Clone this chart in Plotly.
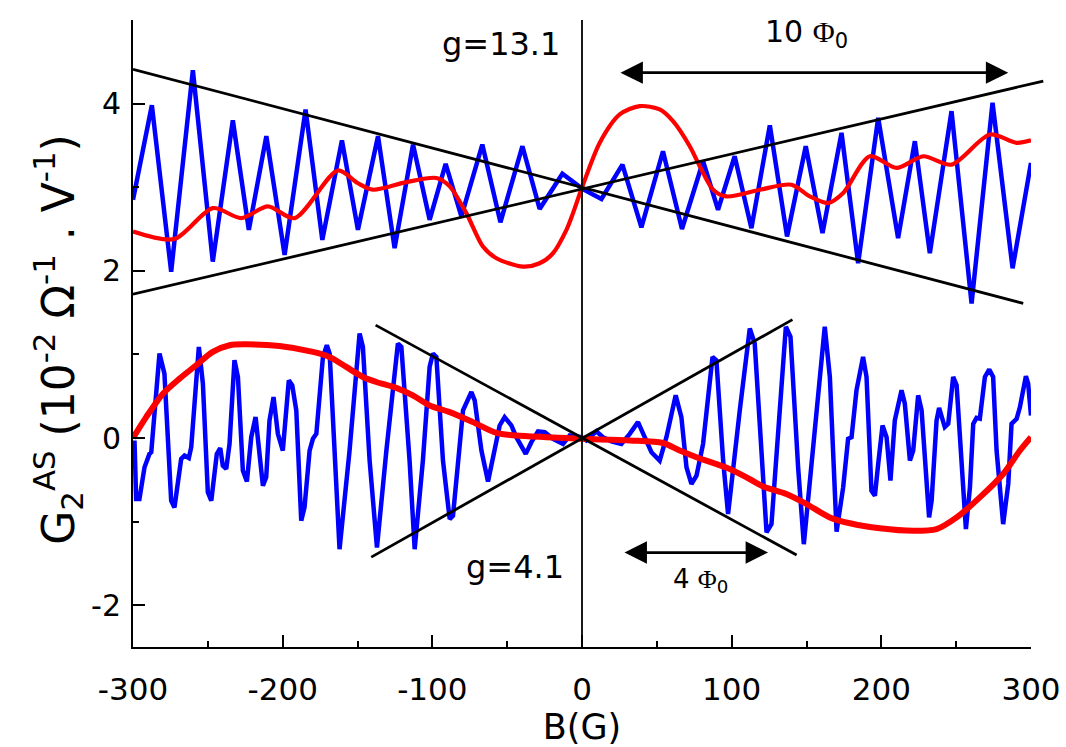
import plotly.graph_objects as go

# ---------------- data ----------------
# upper blue trace (g=13.1 sample), field B in G, signal in 1e-2 Ohm^-1 V^-1
b_up_blue = [-300, -287.4, -274.5, -260.0, -246.7, -233.3, -222.6, -210.9, -198.7, -184.7,
             -173.5, -160.4, -149.7, -136.3, -125.2, -112.9, -101.8, -91.1, -80.6, -66.6,
             -54.5, -39.8, -28.3, -13.1, 0.3, 13.0, 27.0, 39.7, 54.1, 66.8,
             80.9, 90.9, 102.0, 113.2, 125.5, 137.0, 149.5, 160.7, 173.4, 184.5,
             197.9, 211.2, 222.4, 232.4, 246.9, 260.3, 274.3, 287.7, 300.0]
g_up_blue = [2.85, 3.98, 1.99, 4.40, 2.11, 3.80, 2.49, 3.61, 2.19, 3.93,
             2.37, 3.56, 2.49, 3.61, 2.27, 3.51, 2.61, 3.28, 2.65, 3.51,
             2.58, 3.49, 2.74, 3.16, 2.98, 2.86, 3.27, 2.52, 3.43, 2.50,
             3.31, 2.73, 3.37, 2.51, 3.74, 2.41, 3.49, 2.45, 3.65, 2.09,
             3.83, 2.39, 3.55, 2.21, 3.91, 1.61, 4.01, 2.03, 3.29]

# upper red trace
b_up_red = [-300, -272.3, -246.7, -227.7, -209.9, -192.0, -163.1, -150.0, -139.7, -117.4,
            -97.3, -88.4, -77.3, -66.2, -57.2, -39.4, -28.3, -19.4, -10.4, -6.0,
            0.3, 11.8, 25.2, 38.6, 51.9, 60.8, 72.0, 78.7, 87.6, 96.5,
            118.8, 140.0, 152.2, 164.4, 174.5, 192.3, 210.2, 228.0, 246.9, 272.5,
            290.4, 300.0]
g_up_red = [2.47, 2.38, 2.75, 2.63, 2.77, 2.63, 3.20, 3.05, 2.97, 3.06,
            3.11, 3.01, 2.69, 2.29, 2.15, 2.05, 2.09, 2.21, 2.49, 2.69,
            3.01, 3.53, 3.87, 3.97, 3.93, 3.79, 3.49, 3.25, 2.97, 2.89,
            2.97, 3.03, 2.89, 2.81, 2.93, 3.37, 3.23, 3.37, 3.27, 3.63,
            3.53, 3.56]

# lower blue trace (g=4.1 sample)
b_lo_blue = [-299.0, -297.9, -295.7, -292.3, -289.0, -287.8, -282.3, -279.0, -274.5, -272.3,
             -267.8, -265.6, -262.7, -261.1, -256.0, -253.3, -250.0, -247.7, -244.0, -241.7,
             -240.0, -237.7, -235.5, -232.2, -229.9, -226.6, -223.9, -221.0, -218.1, -215.4,
             -213.2, -211.0, -208.8, -206.1, -203.2, -199.9, -197.6, -195.9, -193.6, -190.9,
             -187.6, -185.4, -182.0, -179.8, -177.5, -173.1, -170.5, -168.6, -162.0, -155.3,
             -148.6, -146.4, -141.9, -137.0, -130.7, -123.0, -120.7, -115.2, -111.8, -106.3,
             -101.8, -99.6, -97.3, -92.9, -88.4, -86.2, -79.5, -73.9, -71.7, -67.2,
             -62.8, -59.5, -55.0, -51.7, -47.2, -43.9, -37.6, -33.8, -29.4, -24.9,
             -19.4, -12.7, -8.2, -0.4, 2.9, 9.6, 14.0, 19.6, 26.3, 31.9,
             37.4, 41.9, 46.4, 51.9, 56.4, 62.6, 66.4, 69.8, 73.1, 76.5,
             80.9, 87.2, 89.8, 94.3, 97.6, 105.4, 112.1, 115.4, 119.9, 123.3,
             126.6, 132.2, 136.2, 139.3, 144.4, 148.2, 152.2, 156.7, 162.2, 165.6,
             170.1, 174.5, 177.8, 180.1, 183.4, 187.8, 190.1, 193.4, 195.7, 197.9,
             200.8, 203.5, 206.1, 209.0, 213.5, 215.7, 219.1, 221.3, 224.6, 226.9,
             231.9, 233.6, 236.9, 238.6, 242.4, 244.7, 248.0, 250.3, 253.6, 256.5,
             259.2, 261.4, 263.6, 265.8, 269.2, 272.1, 274.7, 277.0, 281.4, 284.8,
             287.0, 290.4, 292.6, 296.6, 298.1, 300.0]
g_lo_blue = [-0.03, -0.73, -0.73, -0.35, -0.19, -0.17, 1.01, 0.77, -0.75, -0.83,
             -0.25, -0.21, -0.24, -0.11, 1.09, 0.65, -0.65, -0.75, -0.19, -0.12,
             -0.33, -0.37, -0.07, 0.93, 0.73, -0.39, -0.52, 0.01, 0.25, -0.15,
             -0.57, -0.47, 0.21, 0.49, 0.05, -0.15, 0.29, 0.69, 0.63, 0.33,
             -0.99, -0.83, -0.15, -0.01, 0.05, 0.97, 1.11, 1.01, -1.33, -0.15,
             1.25, 1.09, -0.27, -1.31, -0.15, 1.13, 1.09, -0.27, -1.33, -0.27,
             0.85, 1.01, 0.97, -0.27, -0.97, -0.93, 0.33, 0.55, 0.45, -0.15,
             -0.52, -0.23, 0.15, 0.25, 0.15, 0.01, -0.19, -0.05, 0.08, 0.07,
             -0.01, -0.07, 0.03, 0.01, -0.03, 0.08, 0.01, -0.04, -0.07, 0.05,
             0.19, 0.01, -0.17, -0.27, 0.01, 0.51, 0.25, -0.35, -0.55, -0.45,
             -0.07, 0.97, 0.93, -0.27, -0.91, 0.33, 1.31, 1.13, -0.27, -1.13,
             -1.03, 0.33, 1.33, 1.21, -0.35, -1.27, -0.55, 0.33, 1.33, 0.73,
             -1.12, -0.59, -0.01, 0.01, 0.57, 0.97, 0.73, -0.63, -0.69, -0.31,
             0.15, 0.01, -0.51, 0.21, 0.57, 0.41, -0.27, -0.15, 0.51, 0.33,
             -0.95, -0.75, 0.21, 0.36, 0.13, 0.17, 0.73, 0.63, -0.39, -1.09,
             -0.59, 0.17, 0.24, 0.23, 0.73, 0.82, 0.73, -0.15, -1.03, -0.55,
             0.17, 0.23, 0.37, 0.74, 0.65, 0.27]

# lower red trace
b_lo_red = [-300, -291.2, -280.0, -268.9, -257.8, -246.7, -235.5, -224.3, -202.1, -179.8,
            -168.7, -157.5, -146.4, -137.4, -124.1, -113.0, -101.8, -88.4, -72.9, -57.2,
            -43.9, -23.8, 0.0, 31.9, 54.1, 65.3, 76.5, 98.7, 109.9, 121.0,
            136.6, 150.0, 165.6, 179.0, 199.0, 221.3, 236.9, 250.3, 265.8, 281.4,
            292.6, 300.0]
g_lo_red = [0.0, 0.25, 0.53, 0.71, 0.87, 1.03, 1.11, 1.12, 1.10, 1.03,
            0.97, 0.85, 0.73, 0.67, 0.60, 0.51, 0.39, 0.31, 0.19, 0.06,
            0.03, 0.01, -0.01, -0.03, -0.06, -0.15, -0.23, -0.37, -0.47, -0.58,
            -0.67, -0.79, -0.95, -1.02, -1.08, -1.11, -1.09, -0.95, -0.71, -0.43,
            -0.15, 0.01]

# envelope guide lines (start/end in data units)
env_up_dec_b = [-300, 294.8]
env_up_dec_g = [4.41, 1.61]
env_up_inc_b = [-300, 308.2]
env_up_inc_g = [1.72, 4.27]
env_lo_dec_b = [-137.9, 143.4]
env_lo_dec_g = [1.35, -1.40]
env_lo_inc_b = [-140.8, 140.6]
env_lo_inc_g = [-1.425, 1.416]

# period arrows
arrow_up_b = [24.7, 284.8]
arrow_up_g = 4.37
arrow_lo_b = [27.4, 124.3]
arrow_lo_g = -1.37

# ticks
x_tickvals = [-300, -200, -100, 0, 100, 200, 300]
x_ticktext = ["-300", "-200", "-100", "0", "100", "200", "300"]
y_tickvals = [-2, 0, 2, 4]
y_ticktext = ["-2", "0", "2", "4"]

# ---------------- layout geometry ----------------
W, H = 1066, 747
ML, MR, MT, MB = 133, 5, 20, 100
AXIS_RIGHT_PX = 1031
X_RANGE = [-300, 300]
Y_RANGE = [-2.5, 5]
plot_w = W - ML - MR
d1 = (AXIS_RIGHT_PX - ML) / plot_w
x2_max = X_RANGE[0] + (X_RANGE[1] - X_RANGE[0]) / d1

FONT = "DejaVu Sans"
PHI = '<span style="font-family:Liberation Serif">Φ</span>'

fig = go.Figure()

fig.add_trace(go.Scatter(x=b_up_blue, y=g_up_blue, mode="lines",
                         line=dict(color="#0000FF", width=4.5), showlegend=False))
fig.add_trace(go.Scatter(x=b_lo_blue, y=g_lo_blue, mode="lines",
                         line=dict(color="#0000FF", width=4.5), showlegend=False))
fig.add_trace(go.Scatter(x=b_up_red, y=g_up_red, mode="lines",
                         line=dict(color="#FF0000", width=4.2, shape="spline", smoothing=0.8),
                         showlegend=False))
fig.add_trace(go.Scatter(x=b_lo_red, y=g_lo_red, mode="lines",
                         line=dict(color="#FF0000", width=6, shape="spline", smoothing=0.8),
                         showlegend=False))
# vertical line at B=0
fig.add_trace(go.Scatter(x=[0, 0], y=Y_RANGE, mode="lines",
                         line=dict(color="black", width=1.8), showlegend=False))

# envelope lines on a wider invisible x axis (so they may overrun the axis end)
for bx, gy in [(env_up_dec_b, env_up_dec_g), (env_up_inc_b, env_up_inc_g),
               (env_lo_dec_b, env_lo_dec_g), (env_lo_inc_b, env_lo_inc_g)]:
    fig.add_trace(go.Scatter(x=bx, y=gy, mode="lines", xaxis="x2", yaxis="y",
                             line=dict(color="black", width=2.8), showlegend=False))

# arrows
for bx, gy in [(arrow_up_b, arrow_up_g), (arrow_lo_b, arrow_lo_g)]:
    fig.add_annotation(x=bx[1], y=gy, ax=bx[0], ay=gy, xref="x", yref="y",
                       axref="x", ayref="y", text="", showarrow=True,
                       arrowhead=2, startarrowhead=2, arrowside="end+start",
                       arrowsize=1.6, startarrowsize=1.6, arrowwidth=2.8,
                       arrowcolor="black")

fig.add_annotation(x=-53.9, y=4.71, xref="x", yref="y", text="g=13.1",
                   showarrow=False, font=dict(family=FONT, size=32, color="black"))
fig.add_annotation(x=-45, y=-1.54, xref="x", yref="y", text="g=4.1",
                   showarrow=False, font=dict(family=FONT, size=32, color="black"))
fig.add_annotation(x=150, y=4.84, xref="x", yref="y", text="10 " + PHI + "<sub>0</sub>",
                   showarrow=False, font=dict(family=FONT, size=30, color="black"))
fig.add_annotation(x=79, y=-1.70, xref="x", yref="y", text="4 " + PHI + "<sub>0</sub>",
                   showarrow=False, font=dict(family=FONT, size=26, color="black"))

# y axis title as a rotated annotation (placed in paper units)
Y_TITLE = ("G<sub>2</sub><sup>AS</sup> (10<sup>-2</sup> Ω<sup>-1</sup> . V<sup>-1</sup>)")
fig.add_annotation(x=(58 - ML) / plot_w, y=0.49, xref="paper", yref="paper",
                   text=Y_TITLE, textangle=-90, showarrow=False,
                   xanchor="center", yanchor="middle",
                   font=dict(family=FONT, size=44, color="black"))

fig.update_layout(
    width=W, height=H,
    margin=dict(l=ML, r=MR, t=MT, b=MB),
    paper_bgcolor="white", plot_bgcolor="rgba(0,0,0,0)",
    font=dict(family=FONT, color="black"),
    xaxis=dict(range=X_RANGE, domain=[0, d1], tickvals=x_tickvals, ticktext=x_ticktext,
               ticks="inside", ticklen=12, tickwidth=2, tickcolor="black",
               minor=dict(ticks="inside", ticklen=6, tickwidth=2, tickcolor="black", dtick=50, tick0=0),
               showline=True, linecolor="black", linewidth=2, showgrid=False, zeroline=False,
               tickfont=dict(family=FONT, size=31), ticklabelstandoff=14, automargin=False,
               title=dict(text="B(G)", font=dict(family=FONT, size=35), standoff=0)),
    xaxis2=dict(range=[X_RANGE[0], x2_max], domain=[0, 1], anchor="y", visible=False,
                showgrid=False, zeroline=False),
    yaxis=dict(range=Y_RANGE, anchor="x", tickvals=y_tickvals, ticktext=y_ticktext,
               ticks="inside", ticklen=12, tickwidth=2, tickcolor="black",
               minor=dict(ticks="inside", ticklen=6, tickwidth=2, tickcolor="black", dtick=1, tick0=0),
               showline=True, linecolor="black", linewidth=2, showgrid=False, zeroline=False,
               tickfont=dict(family=FONT, size=30), ticklabelstandoff=4, automargin=False),
)

fig.write_html("out.html", config={"displayModeBar": False},
               post_script="document.body.style.margin='0px';")
